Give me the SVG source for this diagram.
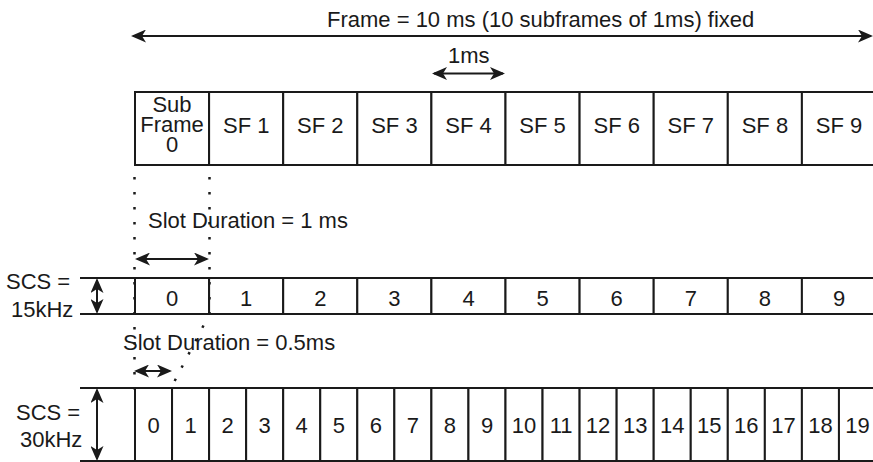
<svg xmlns="http://www.w3.org/2000/svg" width="873" height="462" viewBox="0 0 873 462">
<style>
.cell{fill:#fff;stroke:#1a1a1a;stroke-width:2}
.ln{stroke:#1a1a1a;stroke-width:2;fill:none}
.t{font-family:"Liberation Sans",Arial,sans-serif;font-size:22px;fill:#1a1a1a;text-anchor:middle}
.ts{font-family:"Liberation Sans",Arial,sans-serif;font-size:22px;fill:#1a1a1a}
.arr{stroke:#1a1a1a;stroke-width:2;fill:none;marker-start:url(#ah);marker-end:url(#ah)}
.dot{stroke:#1a1a1a;stroke-width:2.5;stroke-dasharray:2.5 12.5;fill:none}
</style>
<defs>
<marker id="ah" markerUnits="userSpaceOnUse" markerWidth="15" markerHeight="13" viewBox="0 0 15 13" refX="13" refY="6.5" orient="auto-start-reverse">
<path d="M0,0 L15,6.5 L0,13 L4,6.5 Z" fill="#1a1a1a"/>
</marker>
</defs>
<rect width="873" height="462" fill="#fff"/>

<g id="frame-label"><text class="ts" x="327" y="27">Frame = 10 ms (10 subframes of 1ms) fixed</text></g>
<g id="ms-label"><text class="ts" x="448" y="63">1ms</text></g>

<g id="subframes">
<g id="sf0"><rect class="cell" x="135" y="92" width="74.1" height="73"/><text class="t" x="172" y="112">Sub</text><text class="t" x="172" y="132">Frame</text><text class="t" x="172" y="152">0</text></g>
<g id="sf1"><rect class="cell" x="209.1" y="92" width="74.1" height="73"/><text class="t" x="246.2" y="133">SF 1</text></g>
<g id="sf2"><rect class="cell" x="283.2" y="92" width="74.1" height="73"/><text class="t" x="320.3" y="133">SF 2</text></g>
<g id="sf3"><rect class="cell" x="357.3" y="92" width="74.1" height="73"/><text class="t" x="394.4" y="133">SF 3</text></g>
<g id="sf4"><rect class="cell" x="431.4" y="92" width="74.1" height="73"/><text class="t" x="468.5" y="133">SF 4</text></g>
<g id="sf5"><rect class="cell" x="505.5" y="92" width="74.1" height="73"/><text class="t" x="542.6" y="133">SF 5</text></g>
<g id="sf6"><rect class="cell" x="579.6" y="92" width="74.1" height="73"/><text class="t" x="616.7" y="133">SF 6</text></g>
<g id="sf7"><rect class="cell" x="653.7" y="92" width="74.1" height="73"/><text class="t" x="690.8" y="133">SF 7</text></g>
<g id="sf8"><rect class="cell" x="727.8" y="92" width="74.1" height="73"/><text class="t" x="764.9" y="133">SF 8</text></g>
<g id="sf9"><rect class="cell" x="801.9" y="92" width="74.1" height="73"/><text class="t" x="839" y="133">SF 9</text></g>
</g>

<g id="slot1ms-label"><text class="ts" x="148" y="228">Slot Duration = 1 ms</text></g>
<g id="slot05-label"><text class="ts" x="123" y="350">Slot Duration = 0.5ms</text></g>

<g id="scs15-label"><text class="ts" x="6" y="289">SCS =</text><text class="ts" x="11" y="317">15kHz</text></g>
<g id="scs30-label"><text class="ts" x="16" y="420">SCS =</text><text class="ts" x="20" y="447">30kHz</text></g>

<g id="row15">
<line class="ln" x1="80" y1="278" x2="135" y2="278"/><line class="ln" x1="80" y1="314" x2="135" y2="314"/>
<g id="s15-0"><rect class="cell" x="135" y="278" width="74.1" height="36"/><text class="t" x="172" y="306">0</text></g>
<g id="s15-1"><rect class="cell" x="209.1" y="278" width="74.1" height="36"/><text class="t" x="246.2" y="306">1</text></g>
<g id="s15-2"><rect class="cell" x="283.2" y="278" width="74.1" height="36"/><text class="t" x="320.3" y="306">2</text></g>
<g id="s15-3"><rect class="cell" x="357.3" y="278" width="74.1" height="36"/><text class="t" x="394.4" y="306">3</text></g>
<g id="s15-4"><rect class="cell" x="431.4" y="278" width="74.1" height="36"/><text class="t" x="468.5" y="306">4</text></g>
<g id="s15-5"><rect class="cell" x="505.5" y="278" width="74.1" height="36"/><text class="t" x="542.6" y="306">5</text></g>
<g id="s15-6"><rect class="cell" x="579.6" y="278" width="74.1" height="36"/><text class="t" x="616.7" y="306">6</text></g>
<g id="s15-7"><rect class="cell" x="653.7" y="278" width="74.1" height="36"/><text class="t" x="690.8" y="306">7</text></g>
<g id="s15-8"><rect class="cell" x="727.8" y="278" width="74.1" height="36"/><text class="t" x="764.9" y="306">8</text></g>
<g id="s15-9"><rect class="cell" x="801.9" y="278" width="74.1" height="36"/><text class="t" x="839" y="306">9</text></g>
</g>

<g id="row30">
<line class="ln" x1="80" y1="388" x2="135" y2="388"/><line class="ln" x1="80" y1="461" x2="135" y2="461"/>
<g id="s30-0"><rect class="cell" x="135" y="388" width="37.05" height="73"/><text class="t" x="153.5" y="433">0</text></g>
<g id="s30-1"><rect class="cell" x="172.05" y="388" width="37.05" height="73"/><text class="t" x="190.6" y="433">1</text></g>
<g id="s30-2"><rect class="cell" x="209.1" y="388" width="37.05" height="73"/><text class="t" x="227.6" y="433">2</text></g>
<g id="s30-3"><rect class="cell" x="246.15" y="388" width="37.05" height="73"/><text class="t" x="264.7" y="433">3</text></g>
<g id="s30-4"><rect class="cell" x="283.2" y="388" width="37.05" height="73"/><text class="t" x="301.7" y="433">4</text></g>
<g id="s30-5"><rect class="cell" x="320.25" y="388" width="37.05" height="73"/><text class="t" x="338.8" y="433">5</text></g>
<g id="s30-6"><rect class="cell" x="357.3" y="388" width="37.05" height="73"/><text class="t" x="375.8" y="433">6</text></g>
<g id="s30-7"><rect class="cell" x="394.35" y="388" width="37.05" height="73"/><text class="t" x="412.9" y="433">7</text></g>
<g id="s30-8"><rect class="cell" x="431.4" y="388" width="37.05" height="73"/><text class="t" x="449.9" y="433">8</text></g>
<g id="s30-9"><rect class="cell" x="468.45" y="388" width="37.05" height="73"/><text class="t" x="487" y="433">9</text></g>
<g id="s30-10"><rect class="cell" x="505.5" y="388" width="37.05" height="73"/><text class="t" x="524" y="433">10</text></g>
<g id="s30-11"><rect class="cell" x="542.55" y="388" width="37.05" height="73"/><text class="t" x="561.1" y="433">11</text></g>
<g id="s30-12"><rect class="cell" x="579.6" y="388" width="37.05" height="73"/><text class="t" x="598.1" y="433">12</text></g>
<g id="s30-13"><rect class="cell" x="616.65" y="388" width="37.05" height="73"/><text class="t" x="635.2" y="433">13</text></g>
<g id="s30-14"><rect class="cell" x="653.7" y="388" width="37.05" height="73"/><text class="t" x="672.2" y="433">14</text></g>
<g id="s30-15"><rect class="cell" x="690.75" y="388" width="37.05" height="73"/><text class="t" x="709.3" y="433">15</text></g>
<g id="s30-16"><rect class="cell" x="727.8" y="388" width="37.05" height="73"/><text class="t" x="746.3" y="433">16</text></g>
<g id="s30-17"><rect class="cell" x="764.85" y="388" width="37.05" height="73"/><text class="t" x="783.4" y="433">17</text></g>
<g id="s30-18"><rect class="cell" x="801.9" y="388" width="37.05" height="73"/><text class="t" x="820.4" y="433">18</text></g>
<g id="s30-19"><rect class="cell" x="838.95" y="388" width="37.05" height="73"/><text class="t" x="857.5" y="433">19</text></g>
</g>

<g id="connectors">
<line class="arr" x1="133" y1="36" x2="871" y2="36"/>
<line class="arr" x1="434" y1="73.5" x2="503" y2="73.5"/>
<line class="arr" x1="137" y1="259" x2="207" y2="259"/>
<line class="arr" x1="136" y1="371" x2="170" y2="371"/>
<line class="arr" x1="97" y1="280" x2="97" y2="312"/>
<line class="arr" x1="97" y1="390" x2="97" y2="459"/>
<path class="dot" d="M134.5,177 V390"/>
<path class="dot" d="M209.5,177 V314 L171,388"/>
</g>
</svg>
